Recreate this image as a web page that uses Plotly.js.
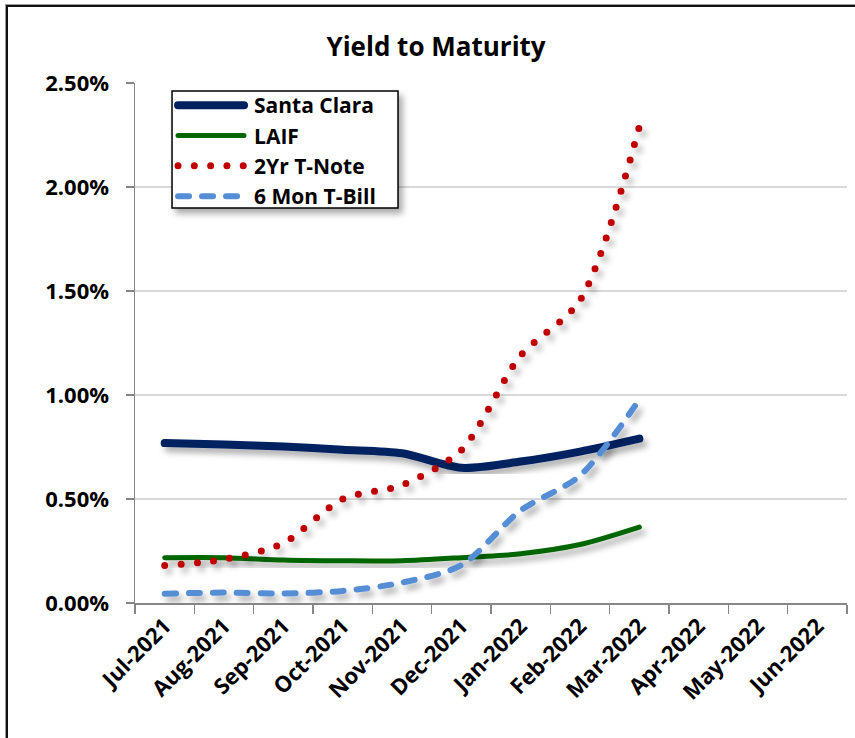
<!DOCTYPE html>
<html>
<head>
<meta charset="utf-8">
<script src="https://cdn.plot.ly/plotly-3.0.1.min.js"></script>
<style>
  html, body { margin: 0; padding: 0; background: #fff; overflow: hidden; }
  #frame {
    position: absolute; left: 6px; top: 5px; width: 900px; height: 800px;
    border-left: 2px solid #111; border-top: 2px solid #111;
    box-shadow: -1px -1px 0 #999;
  }
  #chart { position: absolute; left: 0; top: 0; width: 855px; height: 738px; }
</style>
</head>
<body>
<div id="frame"></div>
<div id="chart"></div>
<script>
// Month categories along the x axis (monthly yields, in percent)
const months = ["Jul-2021", "Aug-2021", "Sep-2021", "Oct-2021", "Nov-2021", "Dec-2021",
                "Jan-2022", "Feb-2022", "Mar-2022", "Apr-2022", "May-2022", "Jun-2022"];
const reported = months.slice(0, 9);

const santaClara = [0.769, 0.762, 0.752, 0.737, 0.720, 0.650, 0.680, 0.728, 0.790];
const laif       = [0.218, 0.218, 0.207, 0.203, 0.203, 0.218, 0.237, 0.281, 0.365];
const tNote2yr   = [0.180, 0.210, 0.288, 0.500, 0.567, 0.735, 1.190, 1.455, 2.290];
const tBill6mo   = [0.045, 0.050, 0.046, 0.058, 0.098, 0.182, 0.445, 0.612, 0.978];

const yTicks = [0, 0.5, 1.0, 1.5, 2.0, 2.5];
const yTickText = yTicks.map(function (v) { return v.toFixed(2) + "%"; });

const FONT = "'Open Sans', 'Noto Sans', sans-serif";
const AXIS_GREY = "#868686";

function series(name, y, color, width, dash) {
  return {
    type: "scatter", mode: "lines", name: name,
    x: reported, y: y,
    line: { color: color, width: width, dash: dash, shape: "spline", smoothing: 0.8 },
    hoverinfo: "skip"
  };
}

const traces = [
  series("Santa Clara", santaClara, "#002060", 8, "solid"),
  series("LAIF", laif, "#006600", 5, "solid"),
  series("2Yr T-Note", tNote2yr, "#C00000", 7, "0px,16.3px"),
  series("6 Mon T-Bill", tBill6mo, "#558ED5", 6, "11px,13px")
];

const layout = {
  width: 855, height: 738,
  paper_bgcolor: "rgba(0,0,0,0)", plot_bgcolor: "rgba(0,0,0,0)",
  margin: { l: 135, r: 8, t: 83, b: 135 },
  font: { family: FONT, color: "#000", size: 21 },
  title: {
    text: "<b>Yield to Maturity</b>",
    font: { family: FONT, size: 26, color: "#000" },
    xref: "container", x: 0.51, xanchor: "center",
    yref: "container", y: 0.936, yanchor: "middle"
  },
  showlegend: true,
  legend: {
    x: 0.052, y: 0.996, xanchor: "left", yanchor: "top",
    bgcolor: "rgba(0,0,0,0)", borderwidth: 0,
    font: { family: FONT, size: 21, color: "#000", weight: "bold" },
    itemwidth: 72, tracegroupgap: 0
  },
  // framed box behind the legend entries
  shapes: [{
    type: "rect", xref: "paper", yref: "paper", layer: "above",
    x0: 0.052, x1: 0.3694, y0: 0.7596, y1: 0.9846,
    line: { color: "#000", width: 1.5 }, fillcolor: "#fff"
  }],
  xaxis: {
    type: "category", categoryorder: "array", categoryarray: months,
    range: [-0.5, 11.5], tickson: "boundaries",
    showgrid: false, zeroline: false,
    showline: true, linecolor: AXIS_GREY, linewidth: 1.5,
    ticks: "outside", ticklen: 9, tickcolor: AXIS_GREY, tickwidth: 1.5,
    tickangle: -45,
    tickfont: { family: FONT, size: 22, color: "#000", weight: "bold" },
    fixedrange: true
  },
  yaxis: {
    range: [0, 2.5], tickvals: yTicks, ticktext: yTickText,
    showgrid: true, gridcolor: "#D9D9D9", gridwidth: 1.5,
    zeroline: false,
    showline: true, linecolor: AXIS_GREY, linewidth: 1.5,
    ticks: "outside", ticklen: 8, tickcolor: AXIS_GREY, tickwidth: 1.5,
    ticklabelstandoff: 12,
    tickfont: { family: FONT, size: 22, color: "#000", weight: "bold" },
    fixedrange: true
  }
};

Plotly.newPlot("chart", traces, layout, { staticPlot: true, displayModeBar: false }).then(function (gd) {
  const svgNS = "http://www.w3.org/2000/svg";
  const svg = gd.querySelector(".main-svg");
  let defs = svg.querySelector("defs");
  if (!defs) { defs = document.createElementNS(svgNS, "defs"); svg.insertBefore(defs, svg.firstChild); }

  // soft drop shadow under each line and under the legend box
  const filter = document.createElementNS(svgNS, "filter");
  filter.setAttribute("id", "softShadow");
  filter.setAttribute("x", "-20%"); filter.setAttribute("y", "-20%");
  filter.setAttribute("width", "140%"); filter.setAttribute("height", "140%");
  const ds = document.createElementNS(svgNS, "feDropShadow");
  ds.setAttribute("dx", "4"); ds.setAttribute("dy", "5");
  ds.setAttribute("stdDeviation", "3");
  ds.setAttribute("flood-color", "#000"); ds.setAttribute("flood-opacity", "0.33");
  filter.appendChild(ds);
  defs.appendChild(filter);

  gd.querySelectorAll(".scatterlayer .trace").forEach(function (g) {
    g.setAttribute("filter", "url(#softShadow)");
  });
  gd.querySelectorAll(".shapelayer path").forEach(function (p) {
    p.setAttribute("filter", "url(#softShadow)");
  });

  // rounded caps give the dotted and dashed lines their look
  gd.querySelectorAll(".js-line").forEach(function (p) {
    p.style.strokeLinecap = "round";
  });
  // longer legend line samples
  gd.querySelectorAll(".legend .legendlines path").forEach(function (p) {
    p.setAttribute("d", "M6,0h66");
  });
});
</script>
</body>
</html>
